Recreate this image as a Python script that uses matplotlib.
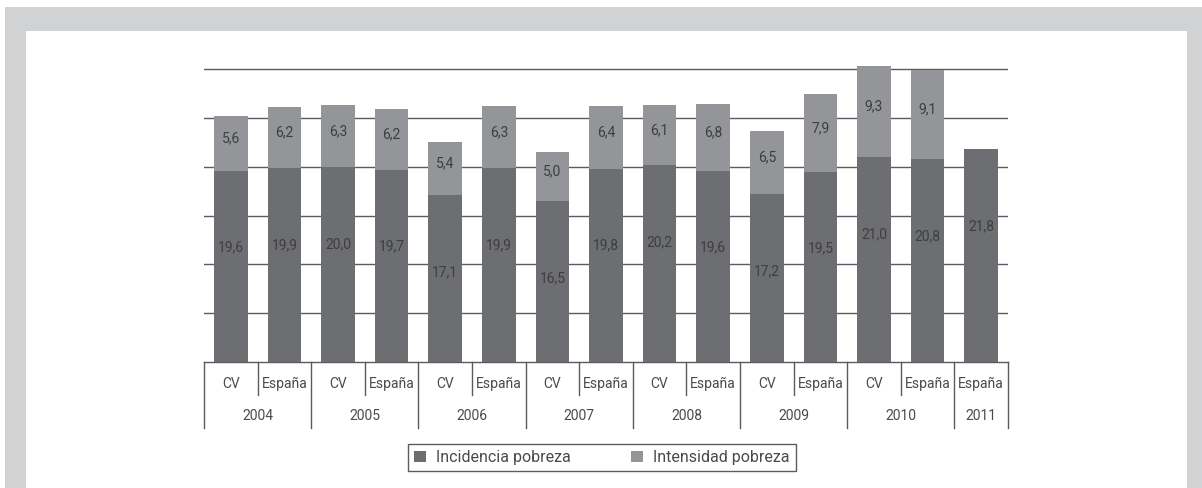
import matplotlib
matplotlib.use("Agg")
from matplotlib import pyplot as plt
from matplotlib.patches import Rectangle, Patch
import numpy as np

plt.rcParams['font.family'] = ['Roboto', 'DejaVu Sans']

# data
years = ["2004", "2005", "2006", "2007", "2008", "2009", "2010", "2011"]
groups = ["CV", "España", "CV", "España", "CV", "España", "CV", "España",
          "CV", "España", "CV", "España", "CV", "España", "España"]
group_year = [0, 0, 1, 1, 2, 2, 3, 3, 4, 4, 5, 5, 6, 6, 7]
incidencia = [19.6, 19.9, 20.0, 19.7, 17.1, 19.9, 16.5, 19.8, 20.2, 19.6, 17.2, 19.5, 21.0, 20.8, 21.8]
intensidad = [5.6, 6.2, 6.3, 6.2, 5.4, 6.3, 5.0, 6.4, 6.1, 6.8, 6.5, 7.9, 9.3, 9.1, 0.0]

DARK = "#6d6e71"
LIGHT = "#939598"
TEXT = "#4a4a4c"
BARTEXT = "#3e3e40"
LINE = "#5a5b5d"
FRAME = "#d1d2d4"

W, H = 1202, 488
fig = plt.figure(figsize=(W / 100, H / 100), dpi=100)
fig.patch.set_facecolor("white")
fig.add_artist(Rectangle((5 / W, 0), 1 - 5 / W, 1 - 7 / H, transform=fig.transFigure,
                         facecolor=FRAME, edgecolor="none", zorder=-10))
fig.add_artist(Rectangle((26 / W, 0), (1187 - 26) / W, 1 - 31 / H, transform=fig.transFigure,
                         facecolor="white", edgecolor="none", zorder=-9))

px_per_unit = 293 / 30
ymax = 31
ax_h = ymax * px_per_unit
ax = fig.add_axes([204 / W, 1 - 362 / H, (1008 - 204) / W, ax_h / H])
ax.set_facecolor("none")

x = np.arange(len(groups))
inc = np.array(incidencia)
ints = np.array(intensidad)
ax.bar(x, inc, width=0.63, color=DARK, zorder=3)
ax.bar(x, ints, bottom=inc, width=0.63, color=LIGHT, zorder=3)

for xi, a, b in zip(x, inc, ints):
    ax.text(xi, a - 7.9, f"{a:.1f}".replace(".", ","), ha="center", va="center",
            fontsize=10, color=BARTEXT, zorder=4)
    if b > 0:
        ax.text(xi, a + b / 2 + 0.5, f"{b:.1f}".replace(".", ","), ha="center", va="center",
                fontsize=10, color=BARTEXT, zorder=4)

ax.set_xlim(-0.5, len(groups) - 0.5)
ax.set_ylim(0, ymax)
ax.set_yticks(np.arange(5, 31, 5))
ax.yaxis.grid(True, color=LINE, linewidth=1)
ax.set_axisbelow(True)
ax.tick_params(axis="y", length=0, labelleft=False)
for s in ["top", "left", "right"]:
    ax.spines[s].set_visible(False)
ax.spines["bottom"].set_color(LINE)
ax.spines["bottom"].set_linewidth(1)

ax.set_xticks(x)
ax.set_xticklabels(groups, fontsize=10, color=TEXT)
ax.tick_params(axis="x", length=0, pad=11)

trans = ax.get_xaxis_transform()
sub_len = 33 / ax_h
year_len = 66 / ax_h
# dividers between categories
edges = np.arange(len(groups) + 1) - 0.5
year_edges = [-0.5] + [i + 0.5 for i in range(len(groups) - 1) if group_year[i] != group_year[i + 1]] + [len(groups) - 0.5]
for e in edges:
    length = year_len if e in year_edges else sub_len
    ax.plot([e, e], [0, -length], transform=trans, color=LINE, linewidth=1, clip_on=False)

for yi, label in enumerate(years):
    members = [i for i, g in enumerate(group_year) if g == yi]
    ax.text(np.mean(members), -54 / ax_h, label, transform=trans, ha="center", va="center",
            fontsize=10, color=TEXT)

handles = [Patch(facecolor=DARK, edgecolor="none", label="Incidencia pobreza"),
           Patch(facecolor=LIGHT, edgecolor="none", label="Intensidad pobreza")]
leg = fig.legend(handles=handles, loc="center", bbox_to_anchor=(602 / W, 1 - 457.5 / H), ncol=2,
                 frameon=True, fancybox=False, fontsize=11.5, handlelength=0.75, handleheight=0.75,
                 columnspacing=3.8, handletextpad=0.6, borderpad=0.4, borderaxespad=0)
leg.get_frame().set_edgecolor("#333333")
leg.get_frame().set_linewidth(1)
for t in leg.get_texts():
    t.set_color(TEXT)

fig.savefig("out.png", dpi=100, facecolor=fig.get_facecolor())
